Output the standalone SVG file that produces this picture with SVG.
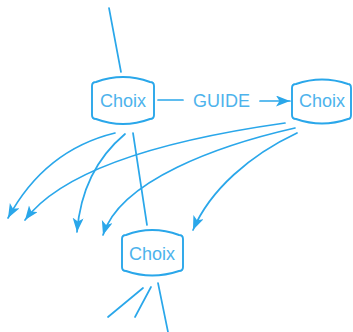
<svg xmlns="http://www.w3.org/2000/svg" width="353" height="332" viewBox="0 0 353 332">
<style>
.ln{fill:none;stroke:#2aa7ea;stroke-width:1.7;stroke-linecap:round}
.box{fill:#fff;stroke:#2aa7ea;stroke-width:1.9;stroke-linejoin:round}
.t{font-family:"Liberation Sans",Arial,sans-serif;font-size:18px;fill:#4db3ec}
</style>
<defs>
<marker id="ah" markerUnits="userSpaceOnUse" markerWidth="16" markerHeight="12" refX="14" refY="5.5" orient="auto">
<path d="M0,0 L14,5.5 L0,11 L3.5,5.5 z" fill="#2aa7ea"/>
</marker>
</defs>
<rect width="353" height="332" fill="#fff"/>
<g id="connectors">
<line class="ln" x1="109" y1="8" x2="121" y2="72"/>
<line class="ln" x1="158" y1="100" x2="183" y2="100"/>
<line class="ln" x1="260" y1="101" x2="290" y2="101" marker-end="url(#ah)"/>
<line class="ln" x1="133" y1="133" x2="147" y2="225"/>
<path class="ln" d="M115,133 Q45,150 8,218" marker-end="url(#ah)"/>
<path class="ln" d="M125,134 Q82,170 77,232" marker-end="url(#ah)"/>
<path class="ln" d="M285,123 C200,135 70,160 25,220" marker-end="url(#ah)"/>
<path class="ln" d="M295,128 C220,145 120,180 103,235" marker-end="url(#ah)"/>
<path class="ln" d="M297,133 C250,155 210,190 193,230" marker-end="url(#ah)"/>
<line class="ln" x1="143" y1="288" x2="108" y2="317"/>
<line class="ln" x1="151" y1="287" x2="135" y2="317"/>
<line class="ln" x1="158" y1="283" x2="168" y2="332"/>
</g>
<g id="guide-label">
<text class="t" x="193" y="107">GUIDE</text>
</g>
<g id="choix-left">
<path class="box" d="M92,86 Q92,82 96,82 Q123,72 150,82 Q154,82 154,86 L154,115 Q154,119 150,119 Q123,129 96,119 Q92,119 92,115 Z"/>
<text class="t" x="123" y="107" text-anchor="middle">Choix</text>
</g>
<g id="choix-right">
<path class="box" d="M292,88 Q292,84 296,84 Q322,75 348,84 Q351,84 351,88 L351,115 Q351,119 348,119 Q322,128 296,119 Q292,119 292,115 Z"/>
<text class="t" x="322" y="107" text-anchor="middle">Choix</text>
</g>
<g id="choix-bottom">
<path class="box" d="M122,239 Q122,235 126,235 Q152,225 179,235 Q183,235 183,239 L183,267 Q183,271 179,271 Q152,280 126,271 Q122,271 122,267 Z"/>
<text class="t" x="152" y="260" text-anchor="middle">Choix</text>
</g>
</svg>
